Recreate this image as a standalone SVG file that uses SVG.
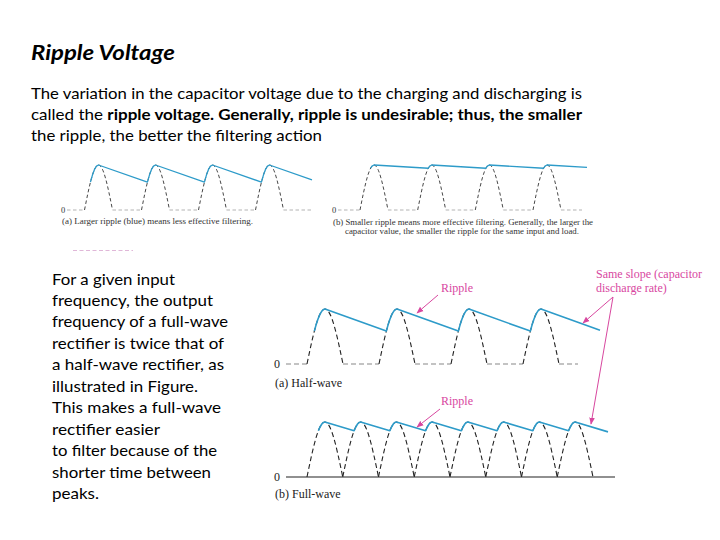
<svg xmlns="http://www.w3.org/2000/svg" xmlns:xlink="http://www.w3.org/1999/xlink" width="720" height="540" viewBox="0 0 720 540">
<style>
.body{font-family:Lato,"Liberation Sans",sans-serif;font-size:16px;fill:#000}
.title{font-family:Lato,"Liberation Sans",sans-serif;font-size:20px;font-weight:bold;font-style:italic;fill:#000}
.fig{font-family:"Liberation Serif",serif;font-size:12px;fill:#222}
.figs{font-family:"Liberation Serif",serif;font-size:8.5px;fill:#333}
.mag{font-family:"Liberation Serif",serif;font-size:12px;fill:#d8479f}
.hump{fill:none;stroke:#222;stroke-width:1.1;stroke-dasharray:5,3}
.humps{fill:none;stroke:#333;stroke-width:0.9;stroke-dasharray:3.5,2.5}
.base{fill:none;stroke:#888;stroke-width:1.1;stroke-dasharray:5,3}
.bases{fill:none;stroke:#aaa;stroke-width:0.9;stroke-dasharray:3.5,2.5}
.blue{fill:none;stroke:#2d9bc9;stroke-width:1.6;stroke-linejoin:round}
.blues{fill:none;stroke:#2d9bc9;stroke-width:1.3;stroke-linejoin:round}
.arrow{fill:none;stroke:#d8479f;stroke-width:1;marker-end:url(#ah)}
</style>
<defs>
<marker id="ah" viewBox="0 0 10 10" refX="9" refY="5" markerWidth="7" markerHeight="7" orient="auto" markerUnits="userSpaceOnUse">
<path d="M0,1 L10,5 L0,9 z" fill="#d8479f"/>
</marker>
<path id="hs" d="M0,0 C4.68,-23.63 8.97,-45 14,-45 C19.03,-45 23.32,-23.63 28,0"/>
<path id="hb" d="M0,0 C6.02,-28.88 11.54,-55 18,-55 C24.46,-55 29.98,-28.88 36,0"/>
<path id="hf" d="M0,0 C5.98,-28.88 11.46,-55 17.88,-55 C24.29,-55 29.77,-28.88 35.75,0"/>
</defs>
<rect width="720" height="540" fill="#fff"/>

<g id="heading">
<text class="title" x="31" y="60" textLength="144" lengthAdjust="spacingAndGlyphs">Ripple Voltage</text>
<text class="body" x="31" y="99" textLength="551" lengthAdjust="spacingAndGlyphs">The variation in the capacitor voltage due to the charging and discharging is</text>
<text class="body" x="31" y="120" textLength="551" lengthAdjust="spacingAndGlyphs">called the <tspan font-weight="bold">ripple voltage. Generally, ripple is undesirable; thus, the smaller</tspan></text>
<text class="body" x="31" y="141" textLength="291" lengthAdjust="spacingAndGlyphs">the ripple, the better the filtering action</text>
</g>

<g id="top-left-figure">
<path class="bases" d="M67,210 H84.5 M112.5,210 H141.5 M169.5,210 H198.5 M226.5,210 H255.5 M283.5,210 H312"/>
<use xlink:href="#hs" class="humps" x="84.5" y="210"/>
<use xlink:href="#hs" class="humps" x="141.5" y="210"/>
<use xlink:href="#hs" class="humps" x="198.5" y="210"/>
<use xlink:href="#hs" class="humps" x="255.5" y="210"/>
<path class="blues" d="M90.45,182.13 L92.5,174.82 L94.5,169.45 L96.5,166.13 L98.5,165 L147.45,182.13 L149.5,174.82 L151.5,169.45 L153.5,166.13 L155.5,165 L204.45,182.13 L206.5,174.82 L208.5,169.45 L210.5,166.13 L212.5,165 L261.45,182.13 L263.5,174.82 L265.5,169.45 L267.5,166.13 L269.5,165 L312,179.88"/>
<text class="figs" x="61" y="212.5">0</text>
<text class="figs" x="62" y="224" textLength="191" lengthAdjust="spacingAndGlyphs">(a) Larger ripple (blue) means less effective filtering.</text>
<path d="M73,250.5 H133" stroke="#d9a6cf" stroke-width="1" stroke-dasharray="4,2.5" opacity="0.8"/>
</g>

<g id="top-right-figure">
<path class="bases" d="M338,210 H360 M388,210 H417.7 M445.7,210 H475.3 M503.3,210 H533 M561,210 H582"/>
<use xlink:href="#hs" class="humps" x="360" y="210"/>
<use xlink:href="#hs" class="humps" x="417.7" y="210"/>
<use xlink:href="#hs" class="humps" x="475.3" y="210"/>
<use xlink:href="#hs" class="humps" x="533" y="210"/>
<path class="blues" d="M370.6,168.26 L372,166.13 L374,165 L428.3,168.26 L429.7,166.13 L431.7,165 L485.9,168.26 L487.3,166.13 L489.3,165 L543.6,168.26 L545,166.13 L547,165 L587,167.4"/>
<text class="figs" x="332" y="212.5">0</text>
<text class="figs" x="333" y="224.5" textLength="260" lengthAdjust="spacingAndGlyphs">(b) Smaller ripple means more effective filtering. Generally, the larger the</text>
<text class="figs" x="345" y="234" textLength="234" lengthAdjust="spacingAndGlyphs">capacitor value, the smaller the ripple for the same input and load.</text>
</g>

<g id="side-text">
<text class="body" x="52" y="285" textLength="123" lengthAdjust="spacingAndGlyphs">For a given input</text>
<text class="body" x="52" y="306" textLength="161" lengthAdjust="spacingAndGlyphs">frequency, the output</text>
<text class="body" x="52" y="327" textLength="176" lengthAdjust="spacingAndGlyphs">frequency of a full-wave</text>
<text class="body" x="52" y="349" textLength="172" lengthAdjust="spacingAndGlyphs">rectifier is twice that of</text>
<text class="body" x="52" y="370" textLength="172" lengthAdjust="spacingAndGlyphs">a half-wave rectifier, as</text>
<text class="body" x="52" y="392" textLength="146" lengthAdjust="spacingAndGlyphs">illustrated in Figure.</text>
<text class="body" x="52" y="413" textLength="169" lengthAdjust="spacingAndGlyphs">This makes a full-wave</text>
<text class="body" x="52" y="435" textLength="108" lengthAdjust="spacingAndGlyphs">rectifier easier</text>
<text class="body" x="52" y="456" textLength="165" lengthAdjust="spacingAndGlyphs">to filter because of the</text>
<text class="body" x="52" y="478" textLength="159" lengthAdjust="spacingAndGlyphs">shorter time between</text>
<text class="body" x="52" y="499" textLength="47" lengthAdjust="spacingAndGlyphs">peaks.</text>
</g>

<g id="half-wave">
<path class="base" d="M286,364 H307 M343,364 H379 M415,364 H451 M487,364 H523 M559,364 H578"/>
<use xlink:href="#hb" class="hump" x="307" y="364"/>
<use xlink:href="#hb" class="hump" x="379" y="364"/>
<use xlink:href="#hb" class="hump" x="451" y="364"/>
<use xlink:href="#hb" class="hump" x="523" y="364"/>
<path class="blue" d="M314.35,331.09 L316,325.11 L318,318.94 L320,314.15 L322,310.87 L323.5,309.47 L325,309 L386.35,331.09 L388,325.11 L390,318.94 L392,314.15 L394,310.87 L395.5,309.47 L397,309 L458.35,331.09 L460,325.11 L462,318.94 L464,314.15 L466,310.87 L467.5,309.47 L469,309 L530.35,331.09 L532,325.11 L534,318.94 L536,314.15 L538,310.87 L539.5,309.47 L541,309 L600,330.24"/>
<text class="fig" x="274" y="368">0</text>
<text class="fig" x="275" y="387">(a) Half-wave</text>
</g>

<g id="full-wave">
<path d="M286,477 H615" stroke="#222" stroke-width="1.2"/>
<use xlink:href="#hf" class="hump" x="307" y="477"/>
<use xlink:href="#hf" class="hump" x="342.75" y="477"/>
<use xlink:href="#hf" class="hump" x="378.5" y="477"/>
<use xlink:href="#hf" class="hump" x="414.25" y="477"/>
<use xlink:href="#hf" class="hump" x="450" y="477"/>
<use xlink:href="#hf" class="hump" x="485.75" y="477"/>
<use xlink:href="#hf" class="hump" x="521.5" y="477"/>
<use xlink:href="#hf" class="hump" x="557.25" y="477"/>
<path class="blue" d="M318.36,430.77 L320,426.97 L322,423.75 L323.5,422.41 L324.88,422 L354.11,430.77 L355.75,426.97 L357.75,423.75 L359.25,422.41 L360.63,422 L389.86,430.77 L391.5,426.97 L393.5,423.75 L395,422.41 L396.38,422 L425.61,430.77 L427.25,426.97 L429.25,423.75 L430.75,422.41 L432.13,422 L461.36,430.77 L463,426.97 L465,423.75 L466.5,422.41 L467.88,422 L497.11,430.77 L498.75,426.97 L500.75,423.75 L502.25,422.41 L503.63,422 L532.86,430.77 L534.5,426.97 L536.5,423.75 L538,422.41 L539.38,422 L568.61,430.77 L570.25,426.97 L572.25,423.75 L573.75,422.41 L575.13,422 L608,431.86"/>
<text class="fig" x="274" y="481">0</text>
<text class="fig" x="275" y="498">(b) Full-wave</text>
</g>

<g id="labels">
<text id="ripple-a" class="mag" x="441" y="292">Ripple</text>
<text id="ripple-b" class="mag" x="441" y="405">Ripple</text>
<text id="same-slope" class="mag" x="596" y="278">Same slope (capacitor<tspan x="596" y="292">discharge rate)</tspan></text>
</g>

<g id="connectors">
<path class="arrow" d="M438,295 L417,313"/>
<path class="arrow" d="M440,409 L417,427"/>
<path class="arrow" d="M613,297 L583,323"/>
<path class="arrow" d="M613,297 L591,424"/>
</g>
</svg>
